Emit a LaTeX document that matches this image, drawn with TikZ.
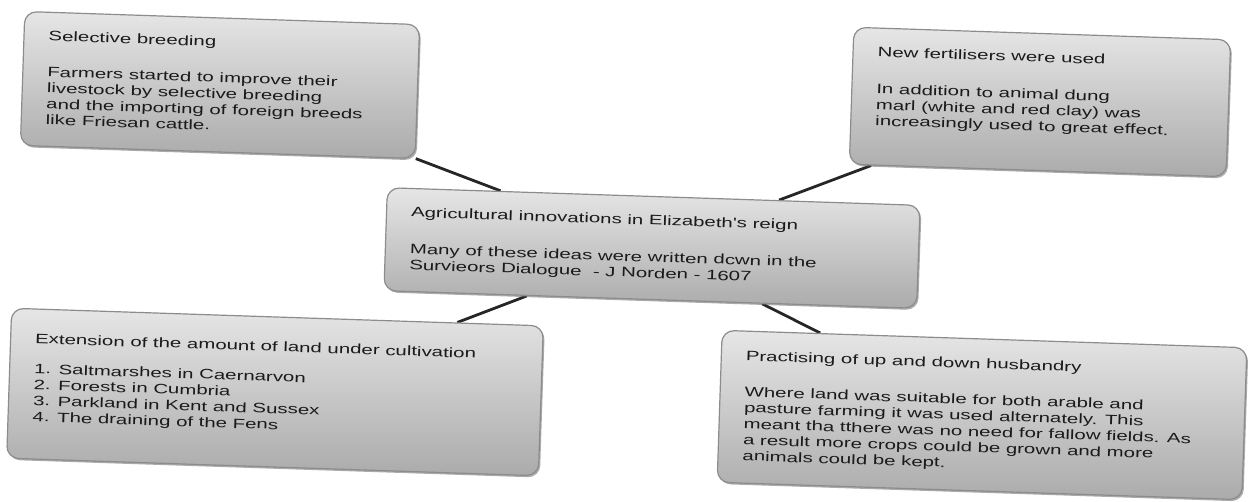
\documentclass[tikz,border=0pt]{standalone}
\usepackage{fontspec}
\newfontfamily\boxfont[FakeStretch=1.5]{Liberation Sans}
\usetikzlibrary{shadows,backgrounds}
\definecolor{boxtop}{HTML}{E6E6E6}
\definecolor{boxbot}{HTML}{ABABAB}
\definecolor{boxedge}{HTML}{8C8C8C}
\definecolor{linkcol}{HTML}{262626}
\definecolor{textcol}{HTML}{1A1A1A}
\begin{document}
\begin{tikzpicture}[x=1pt,y=-1pt,
  box/.style={draw=boxedge, line width=1.2pt, rounded corners=12pt,
    top color=boxtop, bottom color=boxbot, rotate=-1.9,
    drop shadow={shadow xshift=1.5pt, shadow yshift=-1.8pt, opacity=0.55, fill=black!60}},
  txt/.style={anchor=north west, rotate=-1.9, align=left,
    font=\boxfont\fontsize{13.6}{16}\selectfont, inner xsep=25pt, inner ysep=19pt, text=textcol},
  link/.style={draw=linkcol, line width=2.8pt}]
\useasboundingbox (0,0) rectangle (1252,502);

\node[box, minimum width=395pt, minimum height=134pt] (b1) at (220,85) {};
\node[box, minimum width=533pt, minimum height=103pt] (b2) at (652,248) {};
\node[box, minimum width=377pt, minimum height=137pt] (b3) at (1040,102) {};
\node[box, minimum width=532pt, minimum height=150pt] (b4) at (275,392) {};
\node[box, minimum width=525pt, minimum height=152pt] (b5) at (982,415) {};

\begin{scope}[on background layer]
  \draw[link] (b1) -- (b2);
  \draw[link] (b3) -- (b2);
  \draw[link] (b4) -- (b2);
  \draw[link] (b5) -- (b2);
\end{scope}

\node[txt] (t1) at (b1.north west) {Selective breeding\\[20pt]
  Farmers started to improve their\\livestock by selective breeding\\
  and the importing of foreign breeds\\like Friesan cattle.};
\node[txt] (t2) at (b2.north west) {Agricultural innovations in Elizabeth's reign\\[21pt]
  Many of these ideas were written dcwn in the\\Survieors Dialogue \ - J Norden - 1607};
\node[txt] (t3) at (b3.north west) {New fertilisers were used\\[21pt]
  In addition to animal dung\\marl (white and red clay) was\\increasingly used to great effect.};
\node[txt, inner ysep=25pt] (t4) at (b4.north west) {Extension of the amount of land under cultivation\\[14pt]
  1. Saltmarshes in Caernarvon\\2. Forests in Cumbria\\3. Parkland in Kent and Sussex\\4. The draining of the Fens};
\node[txt, inner ysep=20pt] (t5) at (b5.north west) {Practising of up and down husbandry\\[20pt]
  Where land was suitable for both arable and\\pasture farming it was used alternately. This\\
  meant tha tthere was no need for fallow fields. As\\a result more crops could be grown and more\\animals could be kept.};
\end{tikzpicture}
\end{document}
